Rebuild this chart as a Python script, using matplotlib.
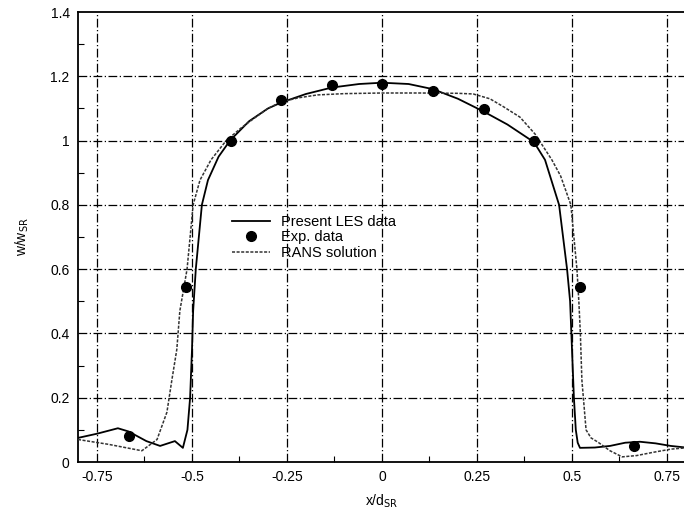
import numpy as np
import matplotlib
matplotlib.use('Agg')
import matplotlib.pyplot as plt
from matplotlib.ticker import MultipleLocator, FuncFormatter

# experimental points
exp_x = [-0.667, -0.516, -0.397, -0.266, -0.132, 0.0, 0.134, 0.268, 0.40, 0.521, 0.663]
exp_y = [0.081, 0.545, 1.0, 1.126, 1.173, 1.175, 1.154, 1.098, 0.999, 0.545, 0.05]

# LES profile
les_x = [-0.80, -0.75, -0.695, -0.667, -0.62, -0.584, -0.545, -0.524, -0.512, -0.505,
         -0.500, -0.497, -0.490, -0.474, -0.458, -0.43, -0.40, -0.35, -0.30,
         -0.266, -0.20, -0.132, -0.06, 0.0, 0.07, 0.134, 0.20, 0.268, 0.33, 0.40,
         0.429, 0.466, 0.487, 0.495, 0.500, 0.505, 0.510, 0.515, 0.521,
         0.56, 0.60, 0.64, 0.679, 0.72, 0.76, 0.80]
les_y = [0.075, 0.088, 0.105, 0.095, 0.065, 0.05, 0.065, 0.044, 0.10, 0.2,
         0.35, 0.47, 0.6, 0.8, 0.877, 0.95, 1.0, 1.06, 1.10,
         1.118, 1.145, 1.165, 1.176, 1.18, 1.176, 1.16, 1.13, 1.09, 1.05, 0.995,
         0.94, 0.8, 0.6, 0.5, 0.35, 0.2, 0.1, 0.06, 0.044,
         0.045, 0.05, 0.06, 0.063, 0.058, 0.05, 0.045]

# RANS profile
rans_x = [-0.80, -0.72, -0.632, -0.592, -0.566, -0.553, -0.54, -0.532, -0.513,
          -0.497, -0.479, -0.45, -0.41, -0.37, -0.33, -0.30, -0.266, -0.22,
          -0.17, -0.10, 0.0, 0.10, 0.20, 0.24, 0.284, 0.32, 0.363, 0.403, 0.447,
          0.47, 0.497, 0.513, 0.518, 0.522, 0.526, 0.537, 0.55, 0.568, 0.60, 0.632,
          0.67, 0.713, 0.76, 0.80]
rans_y = [0.07, 0.055, 0.035, 0.07, 0.155, 0.255, 0.35, 0.47, 0.6,
          0.8, 0.877, 0.94, 1.0, 1.04, 1.075, 1.10, 1.12, 1.133,
          1.142, 1.146, 1.148, 1.148, 1.147, 1.145, 1.13, 1.105, 1.073, 1.02, 0.94,
          0.89, 0.8, 0.6, 0.5, 0.4, 0.255, 0.10, 0.075, 0.062, 0.035, 0.016,
          0.02, 0.03, 0.04, 0.044]

x_ticks = [-0.75, -0.5, -0.25, 0, 0.25, 0.5, 0.75]
y_ticks = [0, 0.2, 0.4, 0.6, 0.8, 1.0, 1.2, 1.4]

plt.rcParams['font.family'] = ['Liberation Sans', 'DejaVu Sans']

fig = plt.figure(figsize=(6.84, 5.14), dpi=100)
ax = fig.add_axes([78 / 684, 52 / 514, 608 / 684, 450 / 514])

grid_style = dict(color='black', linewidth=0.9, linestyle=(0, (7, 2, 1, 2)))
for xt in x_ticks:
    ax.axvline(xt, zorder=1, **grid_style)
for yt in y_ticks[1:-1]:
    ax.axhline(yt, zorder=1, **grid_style)

ax.plot(les_x, les_y, color='black', linewidth=1.3, label='Present LES data', zorder=3)
ax.plot(exp_x, exp_y, 'o', color='black', markersize=7, label='Exp. data', zorder=4)
ax.plot(rans_x, rans_y, color='#333333', linewidth=1.1, linestyle=(0, (2, 1)),
        label='RANS solution', zorder=3)

ax.set_xlim(-0.8, 0.8)
ax.set_ylim(0, 1.4)
ax.set_xticks(x_ticks)
ax.set_yticks(y_ticks)
ax.xaxis.set_minor_locator(MultipleLocator(0.125))
ax.yaxis.set_minor_locator(MultipleLocator(0.1))
fmt = FuncFormatter(lambda v, p: ('%g' % round(v, 3)))
ax.xaxis.set_major_formatter(fmt)
ax.yaxis.set_major_formatter(fmt)
ax.tick_params(which='both', direction='in', top=False, right=False, labelsize=10,
               colors='black', pad=6)
ax.tick_params(which='major', length=0)
ax.tick_params(which='minor', length=4, width=0.8)

for s in ['left', 'bottom', 'top']:
    ax.spines[s].set_linewidth(1.3)
ax.spines['right'].set_visible(False)

ax.set_xlabel(r'x/d$_{\rm SR}$', fontsize=10, labelpad=6)
ax.set_ylabel(r'w/w$_{\rm SR}$', fontsize=10, labelpad=14)

ax.legend(loc='upper left', bbox_to_anchor=(0.242, 0.565), frameon=False, fontsize=10.5,
          handlelength=2.6, handletextpad=0.7, labelspacing=0.1, borderpad=0)

fig.savefig('out.png', dpi=100)
